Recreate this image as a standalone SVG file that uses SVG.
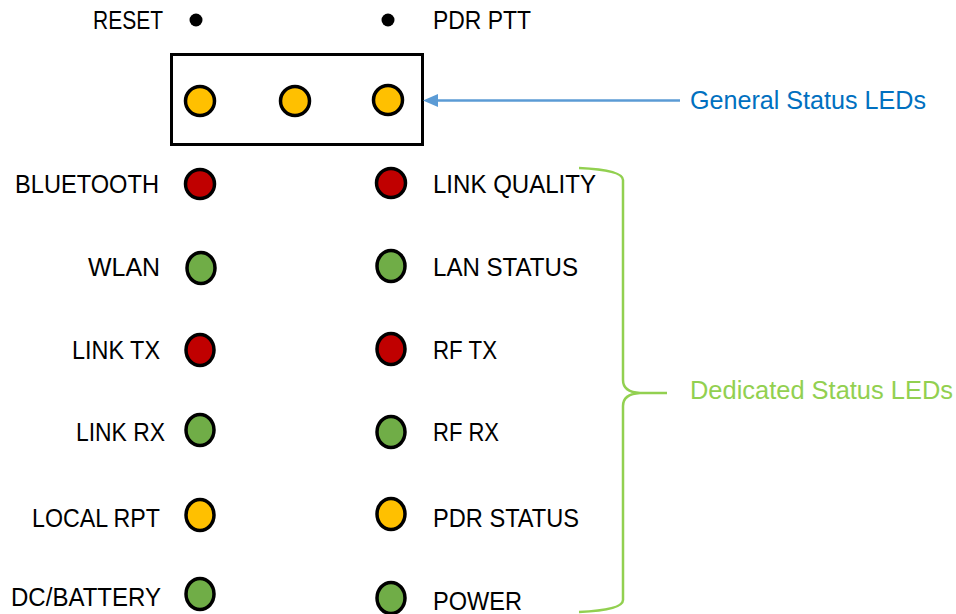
<svg xmlns="http://www.w3.org/2000/svg" width="956" height="614" viewBox="0 0 956 614">
<defs>
<style>
.lbl{font-family:"Liberation Sans",Arial,sans-serif;font-size:25px;fill:#000}
.r{text-anchor:end}
.led{stroke:#000;stroke-width:3.5}
.red{fill:#C00000}.grn{fill:#70AD47}.yel{fill:#FFC000}
.dot{fill:#000}
</style>
<marker id="arr" markerWidth="15" markerHeight="13" refX="0" refY="6.5" orient="auto" markerUnits="userSpaceOnUse">
<path d="M15,0 L0,6.5 L15,13 Z" fill="#5B9BD5"/>
</marker>
</defs>
<rect width="956" height="614" fill="#fff"/>

<g id="reset"><circle class="dot" cx="196" cy="20" r="6.5"/><text class="lbl r" x="163" y="29" textLength="70" lengthAdjust="spacingAndGlyphs">RESET</text></g>
<g id="pdr-ptt"><circle class="dot" cx="388" cy="20" r="6.5"/><text class="lbl" x="433" y="29" textLength="98" lengthAdjust="spacingAndGlyphs">PDR PTT</text></g>

<g id="general-box">
<rect x="171.5" y="54.5" width="251" height="90" fill="none" stroke="#000" stroke-width="3"/>
<circle class="led yel" cx="200" cy="101" r="14.5"/>
<circle class="led yel" cx="295" cy="101" r="14.5"/>
<circle class="led yel" cx="388" cy="100" r="14.5"/>
</g>

<g id="bluetooth"><circle class="led red" cx="200" cy="184" r="14.5"/><text class="lbl r" x="159" y="193" textLength="144" lengthAdjust="spacingAndGlyphs">BLUETOOTH</text></g>
<g id="wlan"><ellipse class="led grn" cx="201" cy="268" rx="14" ry="15.5"/><text class="lbl r" x="160" y="276" textLength="72" lengthAdjust="spacingAndGlyphs">WLAN</text></g>
<g id="link-tx"><ellipse class="led red" cx="200" cy="350" rx="14" ry="15.5"/><text class="lbl r" x="160" y="359" textLength="88" lengthAdjust="spacingAndGlyphs">LINK TX</text></g>
<g id="link-rx"><ellipse class="led grn" cx="200" cy="430" rx="14" ry="15.5"/><text class="lbl r" x="165" y="441" textLength="89" lengthAdjust="spacingAndGlyphs">LINK RX</text></g>
<g id="local-rpt"><ellipse class="led yel" cx="200" cy="515" rx="14" ry="15.5"/><text class="lbl r" x="160" y="527" textLength="128" lengthAdjust="spacingAndGlyphs">LOCAL RPT</text></g>
<g id="dc-battery"><ellipse class="led grn" cx="200" cy="594" rx="14" ry="15.5"/><text class="lbl r" x="161" y="606" textLength="150" lengthAdjust="spacingAndGlyphs">DC/BATTERY</text></g>

<g id="link-quality"><circle class="led red" cx="391" cy="183" r="14.5"/><text class="lbl" x="433" y="193" textLength="163" lengthAdjust="spacingAndGlyphs">LINK QUALITY</text></g>
<g id="lan-status"><ellipse class="led grn" cx="391" cy="266" rx="14" ry="15.5"/><text class="lbl" x="433" y="276" textLength="145" lengthAdjust="spacingAndGlyphs">LAN STATUS</text></g>
<g id="rf-tx"><ellipse class="led red" cx="391" cy="349" rx="14" ry="15.5"/><text class="lbl" x="433" y="359" textLength="64" lengthAdjust="spacingAndGlyphs">RF TX</text></g>
<g id="rf-rx"><ellipse class="led grn" cx="391" cy="432" rx="14" ry="15.5"/><text class="lbl" x="433" y="441" textLength="66" lengthAdjust="spacingAndGlyphs">RF RX</text></g>
<g id="pdr-status"><ellipse class="led yel" cx="391" cy="514" rx="14" ry="15.5"/><text class="lbl" x="433" y="527" textLength="146" lengthAdjust="spacingAndGlyphs">PDR STATUS</text></g>
<g id="power"><ellipse class="led grn" cx="391" cy="598" rx="14" ry="15.5"/><text class="lbl" x="433" y="610" textLength="89" lengthAdjust="spacingAndGlyphs">POWER</text></g>

<g id="connectors">
<line x1="680" y1="100.5" x2="436" y2="100.5" stroke="#5B9BD5" stroke-width="2.5"/>
<path d="M423,100.5 L438,94 L438,107 Z" fill="#5B9BD5"/>
<path d="M579,168 Q623,170 623,180 L623,380 Q623,392 640,393 L667,393 M640,393 Q623,394 623,406 L623,600 Q623,610 579,612" fill="none" stroke="#92D050" stroke-width="2.5"/>
</g>

<g id="labels">
<text x="690" y="109" font-family="Liberation Sans, Arial, sans-serif" font-size="25" fill="#0070C0" textLength="236" lengthAdjust="spacingAndGlyphs">General Status LEDs</text>
<text x="690" y="399" font-family="Liberation Sans, Arial, sans-serif" font-size="25" fill="#92D050" textLength="263" lengthAdjust="spacingAndGlyphs">Dedicated Status LEDs</text>
</g>
</svg>
